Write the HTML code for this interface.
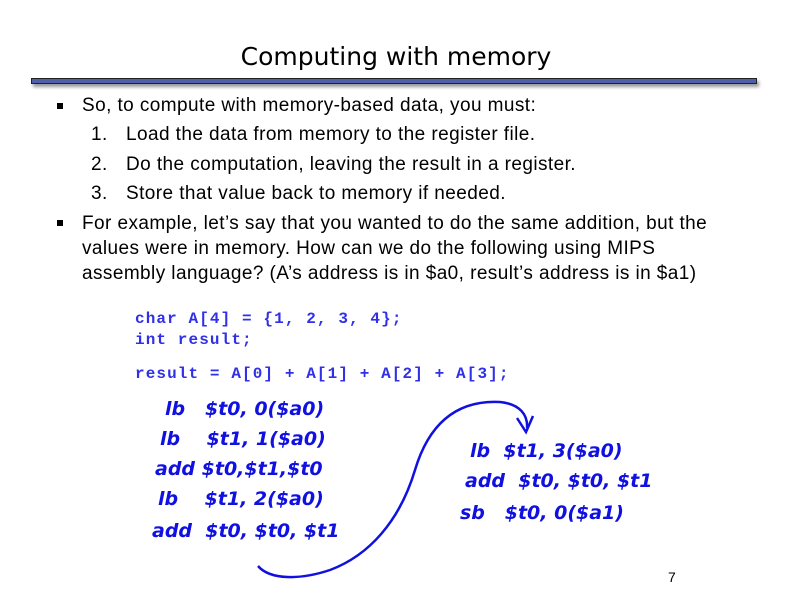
<!DOCTYPE html>
<html><head><meta charset="utf-8"><style>
body{margin:0;width:792px;height:612px;background:#fff;position:relative;overflow:hidden;font-family:"Liberation Sans",sans-serif;}
.t{position:absolute;white-space:nowrap;}
.title{left:0;width:792px;text-align:center;top:42px;font-size:25px;font-family:"DejaVu Sans","Liberation Sans",sans-serif;}
.bar{position:absolute;left:31px;top:78px;width:724px;height:4px;background:#5060a8;border:1px solid #222;box-shadow:2px 3px 3px #999;}
.b{font-size:19px;letter-spacing:0.42px;color:#000;}
.code{font-family:"Liberation Mono",monospace;font-weight:bold;color:#3030e8;font-size:16px;letter-spacing:1.1px;}
.hw{font-family:"DejaVu Sans",sans-serif;font-style:italic;font-weight:bold;color:#1010e0;font-size:19px;}
.sq{position:absolute;width:6px;height:6px;background:#000;}
</style></head><body>
<div class="t title">Computing with memory</div>
<div class="bar"></div>
<div class="sq" style="left:57px;top:103px"></div>
<div class="t b" style="left:82px;top:95px">So, to compute with memory-based data, you must:</div>
<div class="t b" style="left:91px;top:124px">1.</div><div class="t b" style="left:126px;top:124px">Load the data from memory to the register file.</div>
<div class="t b" style="left:91px;top:154px">2.</div><div class="t b" style="left:126px;top:154px">Do the computation, leaving the result in a register.</div>
<div class="t b" style="left:91px;top:183px">3.</div><div class="t b" style="left:126px;top:183px">Store that value back to memory if needed.</div>
<div class="sq" style="left:57px;top:220px"></div>
<div class="t b" style="left:82px;top:211px;line-height:25px">For example, let’s say that you wanted to do the same addition, but the<br>values were in memory. How can we do the following using MIPS<br>assembly language? (A’s address is in $a0, result’s address is in $a1)</div>
<div class="t code" style="left:135px;top:310px">char A[4] = {1, 2, 3, 4};</div>
<div class="t code" style="left:135px;top:331px">int result;</div>
<div class="t code" style="left:135px;top:365px">result = A[0] + A[1] + A[2] + A[3];</div>
<div class="t hw" style="left:165px;top:398px">lb&nbsp;&nbsp;&nbsp;$t0, 0($a0)</div>
<div class="t hw" style="left:160px;top:428px">lb&nbsp;&nbsp;&nbsp;&nbsp;$t1, 1($a0)</div>
<div class="t hw" style="left:155px;top:458px">add $t0,$t1,$t0</div>
<div class="t hw" style="left:158px;top:488px">lb&nbsp;&nbsp;&nbsp;&nbsp;$t1, 2($a0)</div>
<div class="t hw" style="left:152px;top:520px">add&nbsp;&nbsp;$t0, $t0, $t1</div>
<div class="t hw" style="left:470px;top:440px">lb&nbsp;&nbsp;$t1, 3($a0)</div>
<div class="t hw" style="left:465px;top:470px">add&nbsp;&nbsp;$t0, $t0, $t1</div>
<div class="t hw" style="left:460px;top:502px">sb&nbsp;&nbsp;&nbsp;$t0, 0($a1)</div>
<svg style="position:absolute;left:0;top:0" width="792" height="612">
<path d="M258,566 C270,580 300,580 330,570 C370,555 400,520 415,470 C430,420 460,400 500,402 C520,404 528,415 527,428" fill="none" stroke="#1010e0" stroke-width="2.5"/>
<path d="M517,418 L526,432 L533,416" fill="none" stroke="#1010e0" stroke-width="2.5"/>
</svg>
<div class="t" style="left:668px;top:569px;font-size:14px">7</div>
</body></html>
